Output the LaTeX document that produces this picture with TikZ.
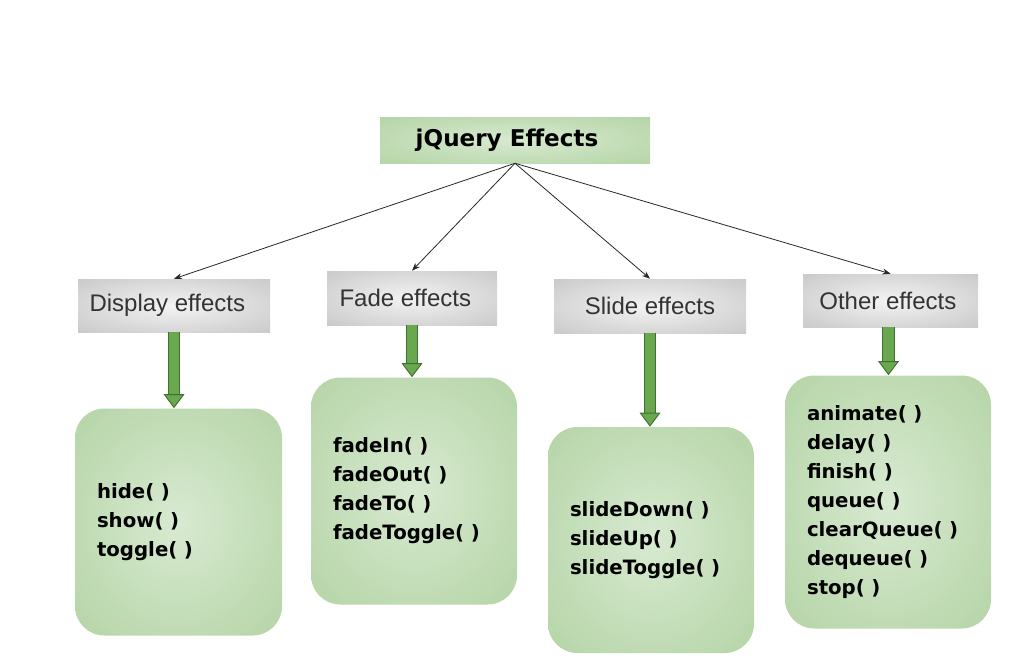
\documentclass[tikz,border=0pt]{standalone}
\usepackage{fontspec}
\setmainfont{DejaVu Sans}
\newfontfamily\catfont{Liberation Sans}
\usetikzlibrary{arrows.meta}

\definecolor{gedge}{HTML}{9AC486}
\definecolor{gmid}{HTML}{D8EAD1}
\definecolor{grayedge}{HTML}{ABABAB}
\definecolor{graymid}{HTML}{F3F3F3}
\definecolor{arrfill}{HTML}{6AA84F}
\definecolor{arrline}{HTML}{3F7030}

\pgfdeclareradialshading{greenglow}{\pgfpoint{0bp}{0bp}}{color(0bp)=(gmid); color(62bp)=(gedge); color(75bp)=(gedge)}
\pgfdeclareradialshading{grayglow}{\pgfpoint{0bp}{0bp}}{color(0bp)=(graymid); color(62bp)=(grayedge); color(75bp)=(grayedge)}

\newcommand{\padright}[1]{\rule{#1}{0pt}}

\tikzset{
	headbox/.style={shade, shading=greenglow, minimum width=202.5pt, minimum height=34.5pt,
		font=\bfseries\fontsize{17.3}{20}\selectfont},
	catbox/.style={shade, shading=grayglow, text=black!80, font=\catfont\fontsize{18}{21}\selectfont},
	listbox/.style={shade, shading=greenglow, rounded corners=22pt, align=left, inner xsep=16.5pt,
		font=\bfseries\fontsize{14.8}{21.75}\selectfont},
	link/.style={-{Stealth[length=6pt,width=4.5pt]}, line width=0.6pt, black!85},
	godown/.style={line width=8pt, draw=arrfill,
		-{Triangle[width=15.5pt,length=10.5pt,fill=arrfill,color=arrline,line width=0.7pt]},
		preaction={draw=arrline, line width=9.5pt, -, shorten >=10pt}}
}

\begin{document}
\begin{tikzpicture}[x=0.75pt, y=-0.75pt]
	\useasboundingbox (0,0) rectangle (1024,671);
	% top
	\node[headbox] (top) at (515,140) {jQuery Effects\padright{12pt}};
	% groups
	\node[catbox, minimum width=144pt, minimum height=39.75pt] (disp) at (174,305.5) {Display effects\padright{10pt}};
	\node[catbox, minimum width=127.5pt, minimum height=40.5pt] (fade) at (412,298) {Fade effects\padright{10pt}};
	\node[catbox, minimum width=144pt, minimum height=40.5pt] (slide) at (650,306) {Slide effects};
	\node[catbox, minimum width=131.25pt, minimum height=39.75pt] (other) at (890.5,300.5) {Other effects\padright{4pt}};
	% methods
	\node[listbox, text width=122.25pt, minimum height=170.25pt] (displist) at (178.5,522)
		{hide( )\\show( )\\toggle( )};
	\node[listbox, text width=121.5pt, minimum height=170.25pt] (fadelist) at (414,491)
		{fadeIn( )\\fadeOut( )\\fadeTo( )\\fadeToggle( )};
	\node[listbox, text width=121.5pt, minimum height=169.5pt] (slidelist) at (651,540)
		{slideDown( )\\slideUp( )\\slideToggle( )};
	\node[listbox, text width=121.5pt, minimum height=189.75pt] (otherlist) at (888,502)
		{animate( )\\delay( )\\finish( )\\queue( )\\clearQueue( )\\dequeue( )\\stop( )};
	% links
	\draw[link] (top.south) -- (disp.north);
	\draw[link] (top.south) -- (fade.north);
	\draw[link] (top.south) -- (slide.north);
	\draw[link] (top.south) -- (other.north);
	\draw[godown] (disp.south) -- (disp.south |- displist.north);
	\draw[godown] (fade.south) -- (fade.south |- fadelist.north);
	\draw[godown] (slide.south) -- (slide.south |- slidelist.north);
	\draw[godown] ([xshift=-1.5pt]other.south) -- ([xshift=-1.5pt]other.south |- otherlist.north);
\end{tikzpicture}
\end{document}
